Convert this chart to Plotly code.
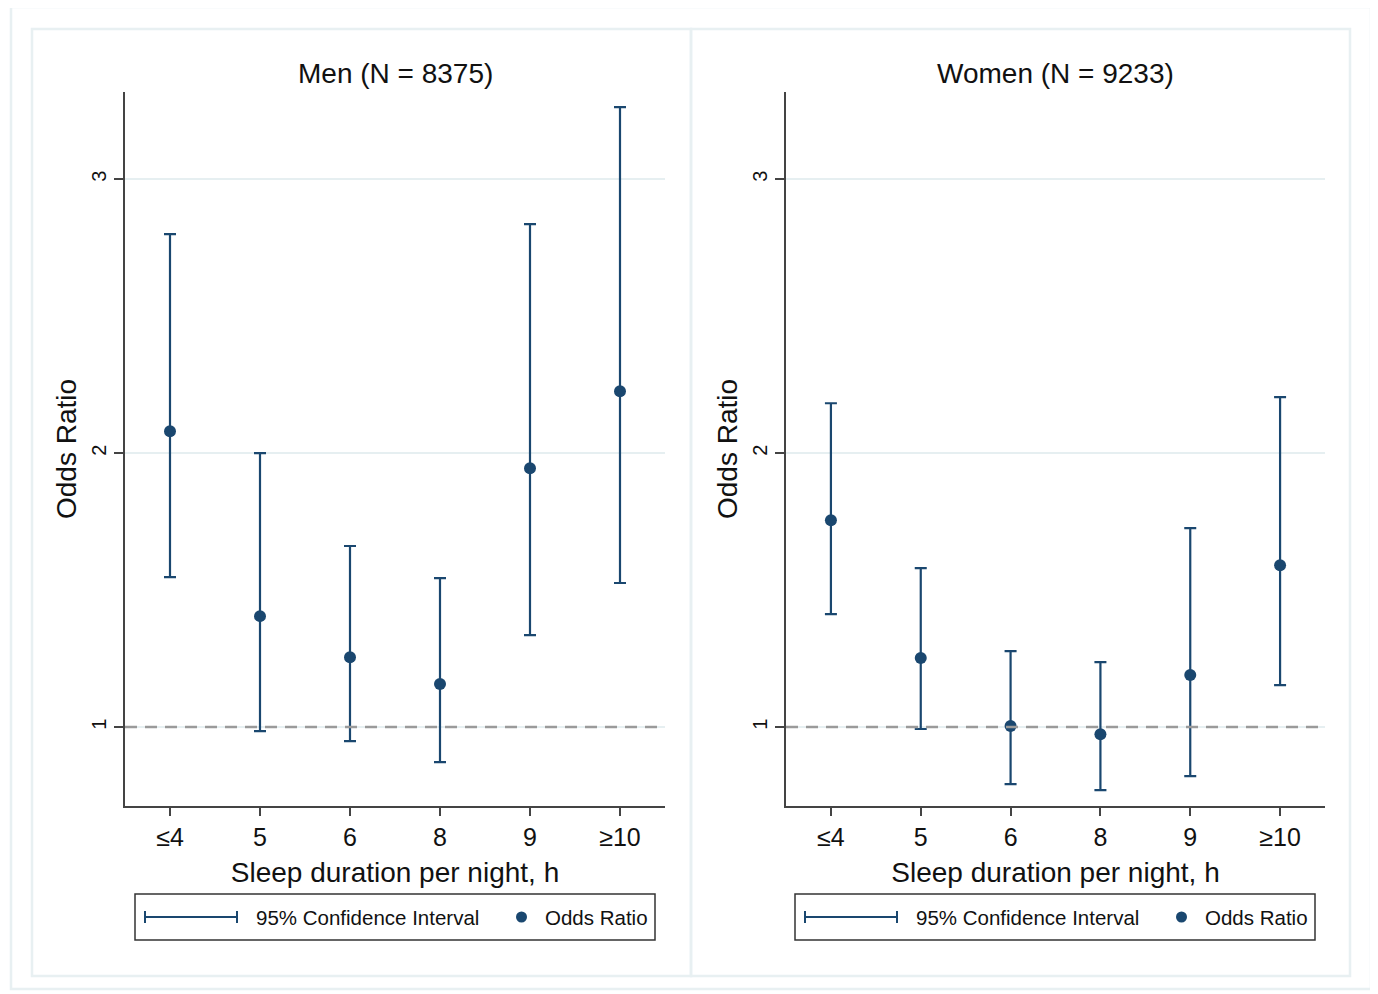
import plotly.graph_objects as go

W, H = 1378, 994
OFF = 8  # page body margin

categories = ["≤4", "5", "6", "8", "9", "≥10"]

men_or = [2.080, 1.405, 1.255, 1.157, 1.945, 2.226]
men_lo = [1.547, 0.985, 0.949, 0.872, 1.336, 1.526]
men_hi = [2.799, 2.000, 1.661, 1.544, 2.836, 3.263]

women_or = [1.755, 1.252, 1.004, 0.974, 1.190, 1.591]
women_lo = [1.412, 0.993, 0.792, 0.770, 0.821, 1.153]
women_hi = [2.182, 1.580, 1.277, 1.237, 1.726, 2.204]

panel_titles = ["Men (N = 8375)", "Women (N = 9233)"]
y_ticks = [1, 2, 3]

NAVY = "#1a476f"
FONT = "Liberation Sans, Arial, sans-serif"
BORDER = "#e8f0f2"
TXT = "#111111"


def px(x):
    return (x - OFF) / W


def py(y):
    return 1 - (y - OFF) / H


fig = go.Figure()

panels = [
    (men_or, men_lo, men_hi, 125, 665, "x", "y"),
    (women_or, women_lo, women_hi, 786, 1325, "x2", "y2"),
]

shapes = []
annotations = []

for i, (orv, lo, hi, x0, x1, xa, ya) in enumerate(panels):
    fig.add_trace(go.Scatter(
        x=categories, y=orv, xaxis=xa, yaxis=ya, mode="markers",
        marker=dict(color=NAVY, size=12),
        error_y=dict(type="data", symmetric=False,
                     array=[h - o for h, o in zip(hi, orv)],
                     arrayminus=[o - l for o, l in zip(orv, lo)],
                     color=NAVY, thickness=2.2, width=6),
        showlegend=False, cliponaxis=False,
    ))
    sfx = "" if i == 0 else str(i + 1)
    axis_common = dict(showline=True, linecolor="#444444", linewidth=1.5,
                       ticks="outside", tickcolor="#444444",
                       tickwidth=1.5, zeroline=False)
    fig.update_layout(**{
        "xaxis" + sfx: dict(domain=[px(x0), px(x1)], anchor="y" + sfx,
                            type="category", range=[-0.5, 5.5], showgrid=False,
                            ticklen=8,
                            tickfont=dict(size=25, color=TXT, family=FONT),
                            title=dict(text="Sleep duration per night, h",
                                       font=dict(size=28, color=TXT, family=FONT),
                                       standoff=13),
                            **axis_common),
        "yaxis" + sfx: dict(domain=[py(806), py(92)], anchor="x" + sfx,
                            range=[0.712, 3.318], tickvals=y_ticks,
                            ticktext=[str(t) for t in y_ticks], tickangle=-90,
                            ticklen=9,
                            showgrid=True, gridcolor="#e6eff1", gridwidth=1.5,
                            tickfont=dict(size=20, color=TXT, family=FONT),
                            title=dict(text="Odds Ratio",
                                       font=dict(size=28, color=TXT, family=FONT),
                                       standoff=3),
                            **axis_common),
    })
    # reference line at 1
    shapes.append(dict(type="line", xref=xa + " domain", yref=ya, x0=0, x1=1,
                       y0=1, y1=1, line=dict(color="#9a9a9a", width=2.5, dash="12px,8px")))
    # panel border
    bx0 = 32 if i == 0 else 691
    bx1 = 691 if i == 0 else 1350
    shapes.append(dict(type="rect", xref="paper", yref="paper",
                       x0=px(bx0), x1=px(bx1), y0=py(976), y1=py(29),
                       line=dict(color=BORDER, width=2.5), layer="below"))
    # title
    cx = (x0 + x1) / 2
    annotations.append(dict(text=panel_titles[i], xref="paper", yref="paper",
                            x=px(cx), y=py(73), xanchor="center", yanchor="middle",
                            showarrow=False,
                            font=dict(size=28, color=TXT, family=FONT)))
    # legend box
    off = 0 if i == 0 else 660
    lx0, lx1, ly0, ly1 = 135 + off, 655 + off, 894, 940
    shapes.append(dict(type="rect", xref="paper", yref="paper",
                       x0=px(lx0), x1=px(lx1), y0=py(ly1), y1=py(ly0),
                       line=dict(color="#333333", width=1.5)))
    ym = 917
    shapes.append(dict(type="line", xref="paper", yref="paper",
                       x0=px(145 + off), x1=px(237 + off), y0=py(ym), y1=py(ym),
                       line=dict(color=NAVY, width=2)))
    for cxx in (145 + off, 237 + off):
        shapes.append(dict(type="line", xref="paper", yref="paper",
                           x0=px(cxx), x1=px(cxx), y0=py(ym - 6), y1=py(ym + 6),
                           line=dict(color=NAVY, width=2)))
    shapes.append(dict(type="circle", xref="paper", yref="paper",
                       x0=px(516 + off), x1=px(527 + off), y0=py(ym + 5.5), y1=py(ym - 5.5),
                       fillcolor=NAVY, line=dict(color=NAVY, width=0)))
    annotations.append(dict(text="95% Confidence Interval", xref="paper", yref="paper",
                            x=px(254 + off), y=py(ym), xanchor="left", yanchor="middle",
                            showarrow=False,
                            font=dict(size=20.5, color=TXT, family=FONT)))
    annotations.append(dict(text="Odds Ratio", xref="paper", yref="paper",
                            x=px(543 + off), y=py(ym), xanchor="left", yanchor="middle",
                            showarrow=False,
                            font=dict(size=20.5, color=TXT, family=FONT)))

# outer border
shapes.append(dict(type="rect", xref="paper", yref="paper",
                   x0=px(11), x1=px(1371), y0=py(989), y1=py(7),
                   line=dict(color=BORDER, width=2.5), layer="below"))

fig.update_layout(
    width=W, height=H, margin=dict(l=0, r=0, t=0, b=0),
    paper_bgcolor="white", plot_bgcolor="white",
    shapes=shapes, annotations=annotations, showlegend=False,
    font=dict(family=FONT),
)

fig.write_html("out.html")
